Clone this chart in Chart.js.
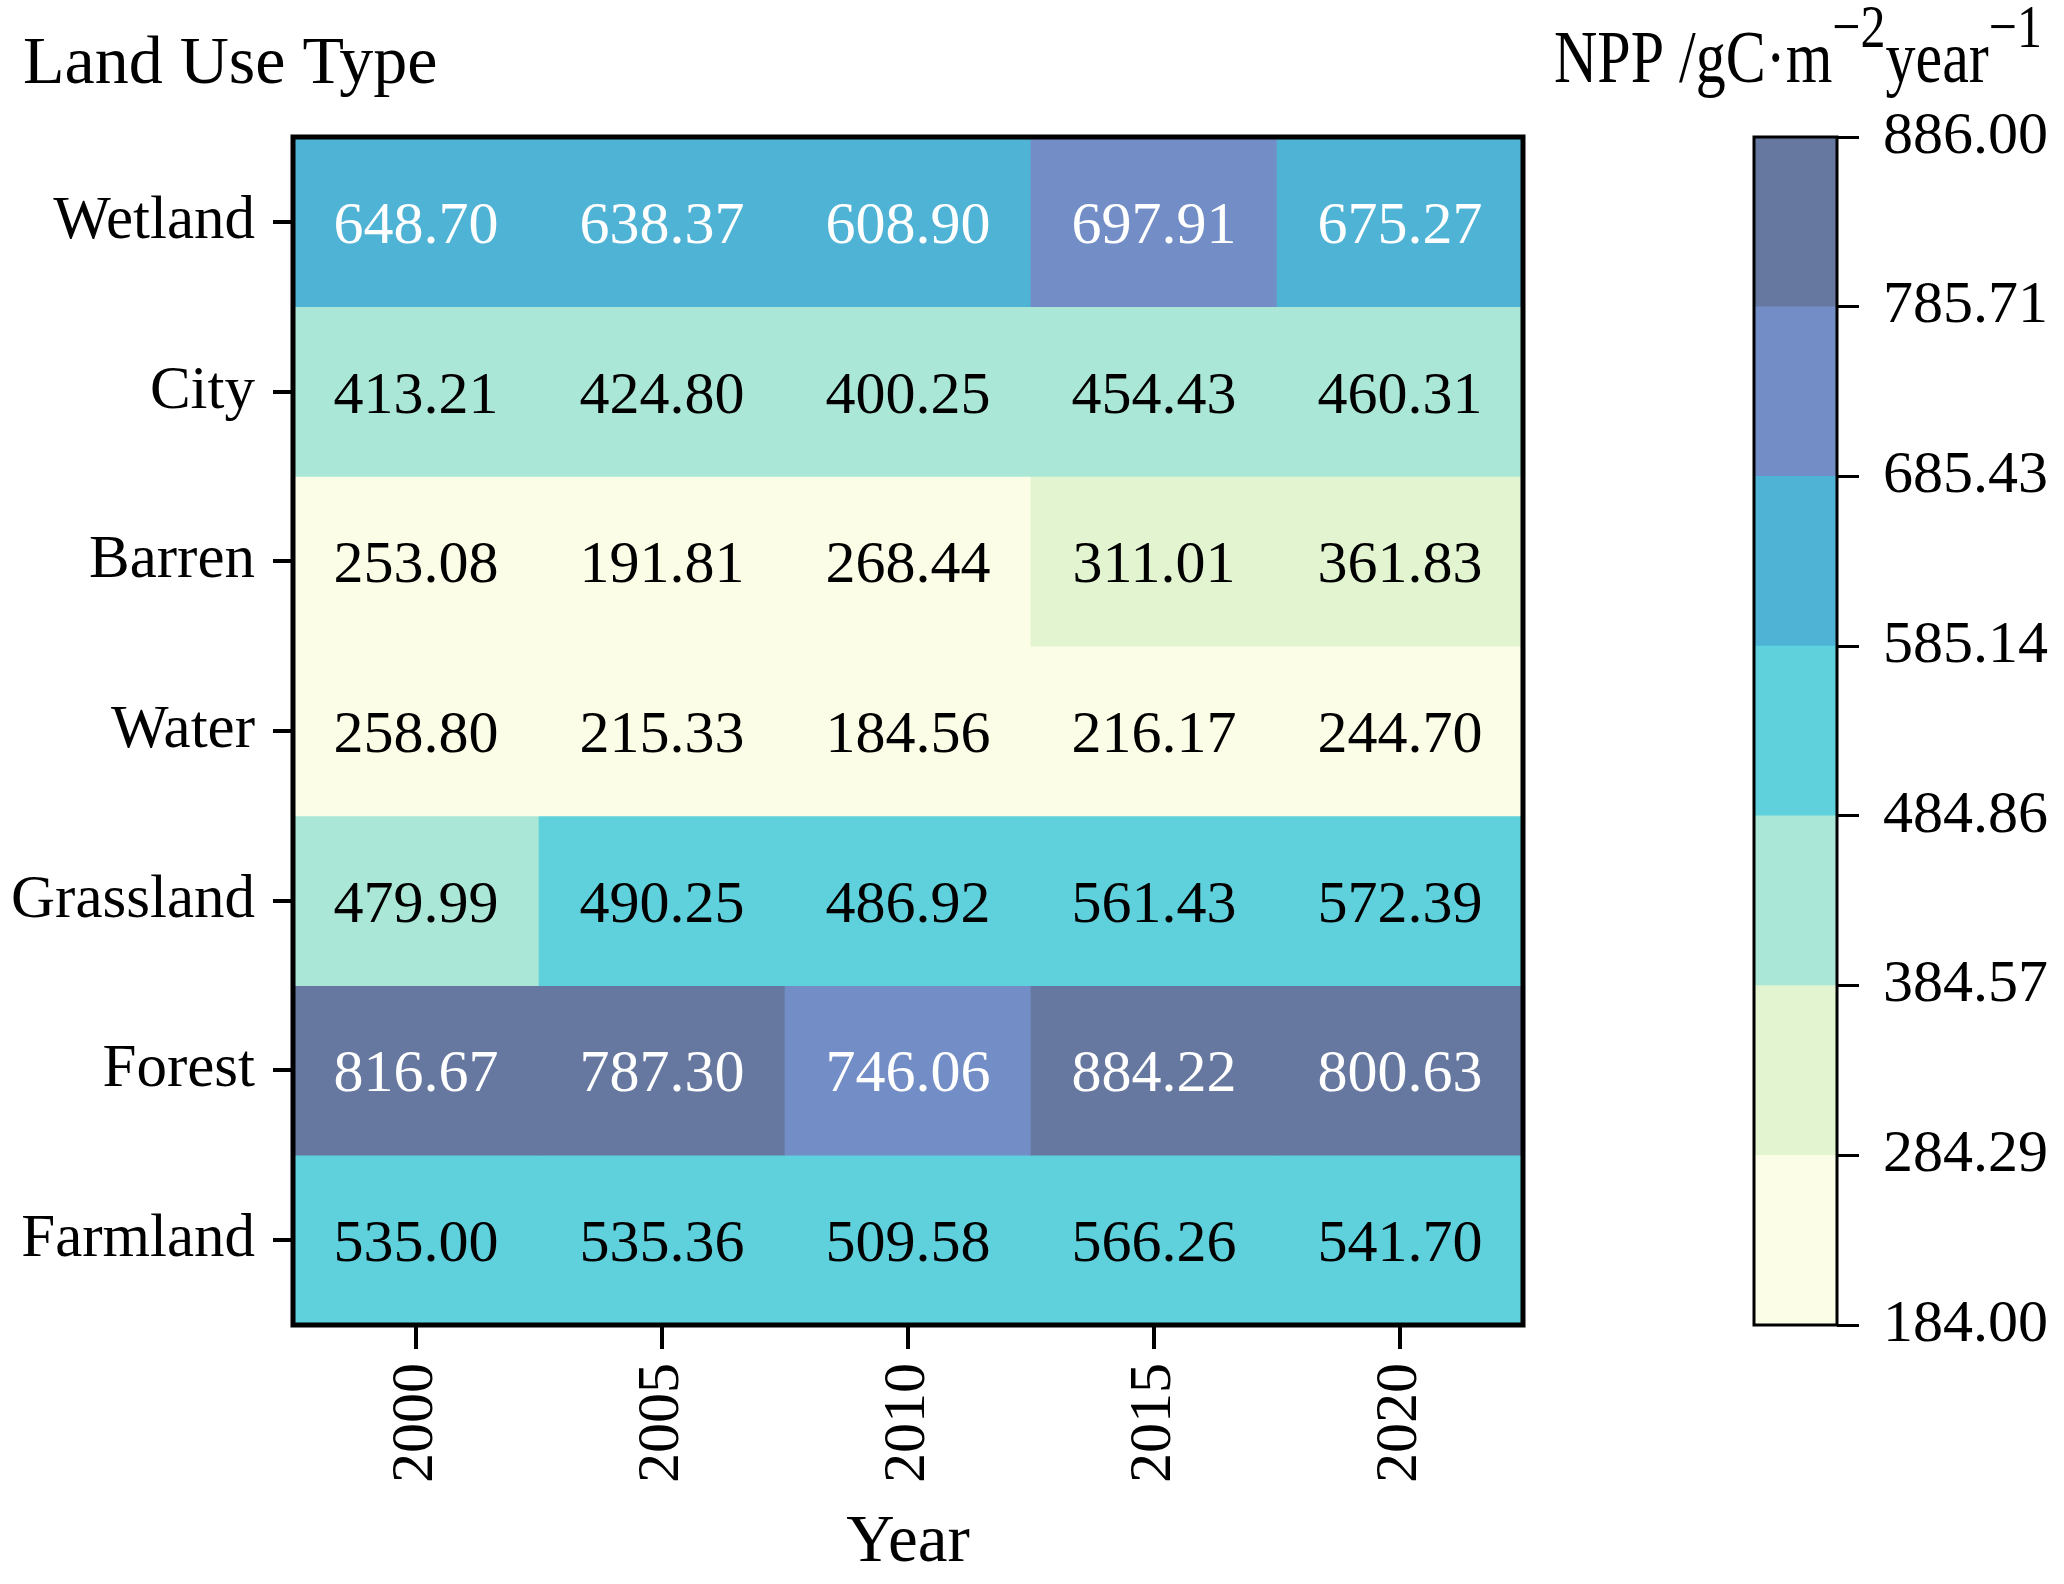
<!DOCTYPE html>
<html>
<head>
<meta charset="utf-8">
<script src="https://cdn.jsdelivr.net/npm/chart.js@4.4.0/dist/chart.umd.min.js"></script>
<style>
html, body { margin: 0; padding: 0; background: #fff; }
body { width: 2064px; height: 1584px; position: relative; overflow: hidden; }
#heatmap { position: absolute; left: 0; top: 0; }
#colorbar { position: absolute; left: 1530px; top: 0; }
</style>
</head>
<body>
<canvas id="heatmap" width="1540" height="1584"></canvas>
<canvas id="colorbar" width="534" height="1584"></canvas>
<script>
// 年（横軸）
const years = ['2000', '2005', '2010', '2015', '2020'];
// 土地利用タイプ（上から順）
const land_types = ['Wetland', 'City', 'Barren', 'Water', 'Grassland', 'Forest', 'Farmland'];
// 各タイプのNPP値
const wetland   = [648.70, 638.37, 608.90, 697.91, 675.27];
const city      = [413.21, 424.80, 400.25, 454.43, 460.31];
const barren    = [253.08, 191.81, 268.44, 311.01, 361.83];
const water     = [258.80, 215.33, 184.56, 216.17, 244.70];
const grassland = [479.99, 490.25, 486.92, 561.43, 572.39];
const forest    = [816.67, 787.30, 746.06, 884.22, 800.63];
const farmland  = [535.00, 535.36, 509.58, 566.26, 541.70];
const npp_values = [wetland, city, barren, water, grassland, forest, farmland];
// カラーバーの区切り値と色
const bin_edges = [184.00, 284.29, 384.57, 484.86, 585.14, 685.43, 785.71, 886.00];
const bin_colors = ['#fbfde6', '#e2f5d0', '#aae7d6', '#5ed1dc', '#4fb3d6', '#738ec6', '#6678a0'];

const FONT = "'Liberation Serif', 'Times New Roman', serif";
Chart.defaults.font.family = FONT;
Chart.defaults.color = '#000';

// 値から色を取得
function getBinColor(v) {
    for (let i = 0; i < bin_colors.length; i++) {
        if (v < bin_edges[i + 1]) return bin_colors[i];
    }
    return bin_colors[bin_colors.length - 1];
}

// 枠線を描く
function framePlugin(width) {
    return {
        id: 'frame',
        afterDraw(chart) {
            const a = chart.chartArea;
            const ctx = chart.ctx;
            ctx.save();
            ctx.strokeStyle = '#000';
            ctx.lineWidth = width;
            ctx.strokeRect(a.left, a.top, a.right - a.left, a.bottom - a.top);
            ctx.restore();
        }
    };
}

// セル内の数値
const cell_label_plugin = {
    id: 'cell_labels',
    afterDatasetsDraw(chart) {
        const ctx = chart.ctx;
        ctx.save();
        ctx.font = '60px ' + FONT;
        ctx.textAlign = 'center';
        ctx.textBaseline = 'alphabetic';
        chart.data.datasets.forEach(function(ds, i) {
            chart.getDatasetMeta(i).data.forEach(function(bar, j) {
                const v = ds.npp[j];
                const p = bar.getCenterPoint();
                ctx.fillStyle = v >= bin_edges[4] ? '#fff' : '#000';
                ctx.fillText(v.toFixed(2), p.x, p.y + 21);
            });
        });
        ctx.restore();
    }
};

// 左上のタイトル
const heatmap_title_plugin = {
    id: 'heatmap_title',
    afterDraw(chart) {
        const ctx = chart.ctx;
        ctx.save();
        ctx.font = '68px ' + FONT;
        ctx.fillStyle = '#000';
        ctx.textAlign = 'left';
        ctx.textBaseline = 'alphabetic';
        ctx.fillText('Land Use Type', 23, 83);
        ctx.restore();
    }
};

// カラーバーの単位（上付き文字あり）
const unit_title_plugin = {
    id: 'unit_title',
    afterDraw(chart) {
        const ctx = chart.ctx;
        const pieces = [
            { t: 'NPP /gC\u00b7m', sup: false },
            { t: '\u22122', sup: true },
            { t: 'year', sup: false },
            { t: '\u22121', sup: true }
        ];
        ctx.save();
        ctx.fillStyle = '#000';
        ctx.textBaseline = 'alphabetic';
        ctx.textAlign = 'left';
        let total = 0;
        pieces.forEach(function(p) {
            ctx.font = (p.sup ? '50px ' : '60px ') + FONT;
            p.w = ctx.measureText(p.t).width;
            total += p.w;
        });
        let x = 512 - total;
        ctx.translate(0, 82);
        ctx.scale(1, 1.22);
        pieces.forEach(function(p) {
            ctx.font = (p.sup ? '50px ' : '60px ') + FONT;
            ctx.fillText(p.t, x, p.sup ? -29 : 0);
            x += p.w;
        });
        ctx.restore();
    }
};

// ヒートマップ
const heatmap_datasets = land_types.map(function(name, i) {
    const row = land_types.length - 1 - i;
    return {
        label: name,
        data: years.map(function() { return [row, row + 1]; }),
        npp: npp_values[i],
        backgroundColor: npp_values[i].map(getBinColor),
        borderWidth: 0,
        grouped: false,
        barPercentage: 1,
        categoryPercentage: 1
    };
});

new Chart(document.getElementById('heatmap').getContext('2d'), {
    type: 'bar',
    data: { labels: years, datasets: heatmap_datasets },
    options: {
        responsive: false,
        animation: false,
        devicePixelRatio: 1,
        layout: { padding: { left: 0, right: 17, top: 137, bottom: 0 } },
        plugins: { legend: { display: false }, tooltip: { enabled: false } },
        scales: {
            x: {
                type: 'category',
                offset: true,
                grid: { display: true, drawOnChartArea: false, drawTicks: true, tickLength: 24, color: '#000', lineWidth: 4, offset: false },
                border: { display: false },
                ticks: { font: { size: 60 }, maxRotation: 90, minRotation: 90, padding: 14, color: '#000' },
                title: { display: true, text: 'Year', font: { size: 67 }, color: '#000', padding: 0 },
                afterFit: function(scale) { scale.height = 259; }
            },
            y: {
                type: 'linear',
                min: 0,
                max: land_types.length,
                stacked: false,
                grid: { display: true, drawOnChartArea: false, drawTicks: true, tickLength: 20, color: '#000', lineWidth: 4 },
                border: { display: false },
                ticks: {
                    font: { size: 61 },
                    padding: 18,
                    color: '#000',
                    callback: function(value, index) { return land_types[land_types.length - 1 - index]; }
                },
                afterBuildTicks: function(scale) {
                    scale.ticks = land_types.map(function(_, i) { return { value: i + 0.5 }; });
                },
                afterFit: function(scale) { scale.width = 293; }
            }
        }
    },
    plugins: [cell_label_plugin, framePlugin(5), heatmap_title_plugin]
});

// カラーバー
const colorbar_datasets = bin_colors.map(function(c, i) {
    return {
        data: [[bin_edges[i], bin_edges[i + 1]]],
        backgroundColor: c,
        borderWidth: 0,
        grouped: false,
        barPercentage: 1,
        categoryPercentage: 1
    };
});

new Chart(document.getElementById('colorbar').getContext('2d'), {
    type: 'bar',
    data: { labels: ['NPP'], datasets: colorbar_datasets },
    options: {
        responsive: false,
        animation: false,
        devicePixelRatio: 1,
        layout: { padding: { left: 224, right: 0, top: 137, bottom: 259 } },
        plugins: { legend: { display: false }, tooltip: { enabled: false } },
        scales: {
            x: { display: false, offset: true },
            y: {
                type: 'linear',
                position: 'right',
                min: bin_edges[0],
                max: bin_edges[bin_edges.length - 1],
                stacked: false,
                grid: { display: true, drawOnChartArea: false, drawTicks: true, tickLength: 22, color: '#000', lineWidth: 3 },
                border: { display: false },
                ticks: {
                    font: { size: 60 },
                    padding: 24,
                    color: '#000',
                    callback: function(value) { return Number(value).toFixed(2); }
                },
                afterBuildTicks: function(scale) {
                    scale.ticks = bin_edges.map(function(v) { return { value: v }; });
                },
                afterFit: function(scale) { scale.width = 227; }
            }
        }
    },
    plugins: [framePlugin(3), unit_title_plugin]
});
</script>
</body>
</html>
